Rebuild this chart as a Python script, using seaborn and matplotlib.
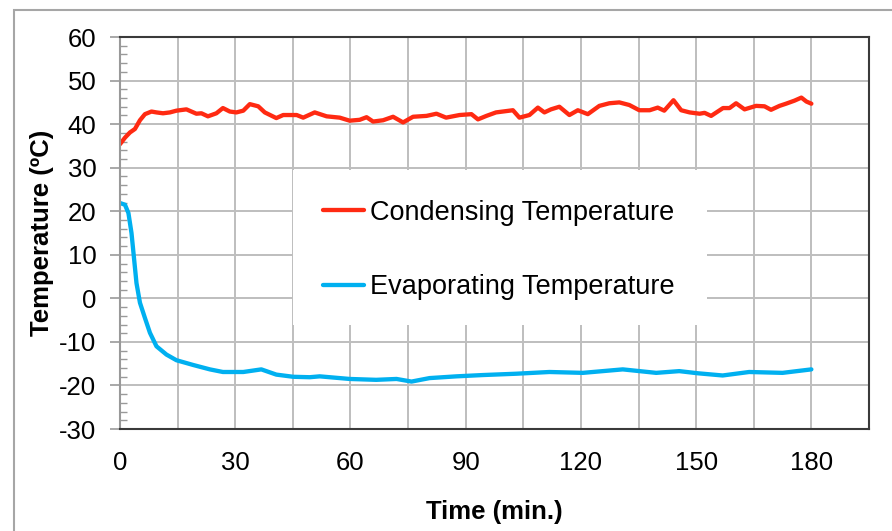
import numpy as np
import pandas as pd
import seaborn as sns
from matplotlib import pyplot as plt
from matplotlib import patches
from matplotlib.ticker import MultipleLocator

# condensing temperature
cond_time = [0, 1.3, 2.6, 3.9, 5.2, 6.5, 8.2, 9.5, 11.2, 13, 14.7, 17.3, 19.9, 21.2,
             22.9, 25.1, 26.8, 28.6, 30.3, 32.1, 33.8, 36, 37.7, 40.7, 42.5, 46,
             47.7, 50.7, 53.8, 57.2, 59.8, 62.4, 64.2, 65.9, 68.5, 71.1, 73.7, 76.3,
             79.8, 82.4, 84.9, 88.4, 91.5, 93.2, 95.4, 97.9, 102.3, 104, 106.6,
             108.8, 110.5, 112.2, 114.4, 117, 119.2, 121.8, 124.8, 127.4, 130,
             132.6, 135.2, 137.9, 140, 141.7, 144.1, 146.1, 148.3, 150.9, 152.2,
             153.9, 157, 158.7, 160.4, 162.6, 165.6, 167.8, 169.5, 171.7, 173.4,
             175.6, 177.4, 178.7, 180]
cond_temp = [35.4, 36.9, 38.1, 38.9, 40.9, 42.3, 42.9, 42.7, 42.5, 42.7, 43.1, 43.4,
             42.4, 42.5, 41.8, 42.5, 43.7, 42.9, 42.7, 43.1, 44.6, 44.1, 42.7, 41.4,
             42.1, 42.1, 41.5, 42.7, 41.8, 41.5, 40.8, 41.0, 41.6, 40.6, 40.9, 41.7,
             40.4, 41.7, 41.9, 42.4, 41.5, 42.1, 42.3, 41.1, 41.9, 42.7, 43.2, 41.5,
             42.1, 43.8, 42.7, 43.4, 44.0, 42.1, 43.2, 42.3, 44.2, 44.8, 45.0, 44.4,
             43.2, 43.2, 43.8, 43.1, 45.5, 43.2, 42.7, 42.4, 42.6, 41.9, 43.7, 43.7,
             44.8, 43.4, 44.2, 44.1, 43.3, 44.2, 44.7, 45.4, 46.1, 45.2, 44.7]

# evaporating temperature
evap_time = [0, 1.3, 2.2, 3.0, 3.6, 4.3, 5.2, 6.5, 7.8, 9.5, 12.1, 14.7, 19.1, 23.4,
             26.8, 32.1, 36.8, 40.7, 45.1, 49.4, 52, 59.8, 66.7, 72, 75.9, 80.6,
             87.6, 94.5, 103.1, 111.8, 120.5, 130.9, 139.6, 145.6, 150.5, 156.9,
             163.8, 172.5, 180]
evap_temp = [21.9, 21.5, 19.6, 15.0, 9.7, 3.5, -1.0, -4.5, -7.9, -11.0, -12.9, -14.2,
             -15.3, -16.3, -16.9, -16.9, -16.3, -17.5, -18.0, -18.1, -17.9, -18.5,
             -18.7, -18.5, -19.1, -18.3, -17.9, -17.6, -17.3, -16.9, -17.1, -16.3,
             -17.1, -16.7, -17.2, -17.7, -16.9, -17.1, -16.3]

series_names = ['Condensing Temperature', 'Evaporating Temperature']
series_colors = ['#FF2A12', '#00B0F0']

df = pd.concat([
    pd.DataFrame({'time': cond_time, 'temp': cond_temp, 'series': series_names[0]}),
    pd.DataFrame({'time': evap_time, 'temp': evap_temp, 'series': series_names[1]}),
])

sns.set_style('white')
plt.rcParams['font.family'] = ['Liberation Sans', 'DejaVu Sans']
plt.rcParams['axes.unicode_minus'] = False
for key in ['text.color', 'axes.labelcolor', 'xtick.labelcolor', 'ytick.labelcolor']:
    plt.rcParams[key] = 'black'

fig = plt.figure(figsize=(8.92, 5.31), dpi=100)
ax = fig.add_axes([0.1345, 0.192, 0.8397, 0.7382])

sns.lineplot(data=df, x='time', y='temp', hue='series', palette=series_colors,
             linewidth=3.1, ax=ax, sort=False, estimator=None, legend=False)

ax.set_xlim(0, 195)
ax.set_ylim(-30, 60)
ax.xaxis.set_major_locator(MultipleLocator(30))
ax.xaxis.set_minor_locator(MultipleLocator(15))
ax.yaxis.set_major_locator(MultipleLocator(10))
ax.yaxis.set_minor_locator(MultipleLocator(2))
ax.set_axisbelow(True)
ax.grid(True, which='major', color='#BEBEBE', linewidth=1.4)
ax.grid(True, which='minor', axis='x', color='#BEBEBE', linewidth=1.4)

ax.tick_params(axis='x', which='both', length=0, pad=16, labelsize=18.5)
ax.tick_params(axis='y', which='major', direction='out', length=7, width=1.2,
               color='#999999', pad=10, labelsize=18.5, left=True)
ax.tick_params(axis='y', which='minor', direction='in', length=5, width=1.0,
               color='#999999', left=True)

for side in ['top', 'right', 'bottom']:
    ax.spines[side].set_color('#3A3A3A')
    ax.spines[side].set_linewidth(1.5)
ax.spines['left'].set_color('#999999')
ax.spines['left'].set_linewidth(1.5)

ax.set_xlabel('Time (min.)', fontsize=18.5, fontweight='bold', labelpad=18)
ax.set_ylabel('Temperature (ºC)', fontsize=18.5, fontweight='bold', labelpad=4)

# white box behind the legend that hides the gridlines
ax.add_patch(patches.Rectangle((0.231, 0.265), 0.553, 0.396, transform=ax.transAxes,
                               facecolor='white', edgecolor='none', zorder=1.5))

handles = [plt.Line2D([], [], color=c, linewidth=3.1) for c in series_colors]
ax.legend(handles, series_names, loc='center left', bbox_to_anchor=(0.271, 0.457),
          frameon=False, fontsize=19.5, handlelength=1.5, handletextpad=0.25,
          labelspacing=1.8, borderpad=0, borderaxespad=0)

# outer chart frame
fig.add_artist(patches.Rectangle((14 / 892, -0.2), 1.2, 1.2 - 10 / 531,
                                 transform=fig.transFigure, fill=False,
                                 edgecolor='#A6A6A6', linewidth=1.5))

fig.savefig('out.png', dpi=100)
